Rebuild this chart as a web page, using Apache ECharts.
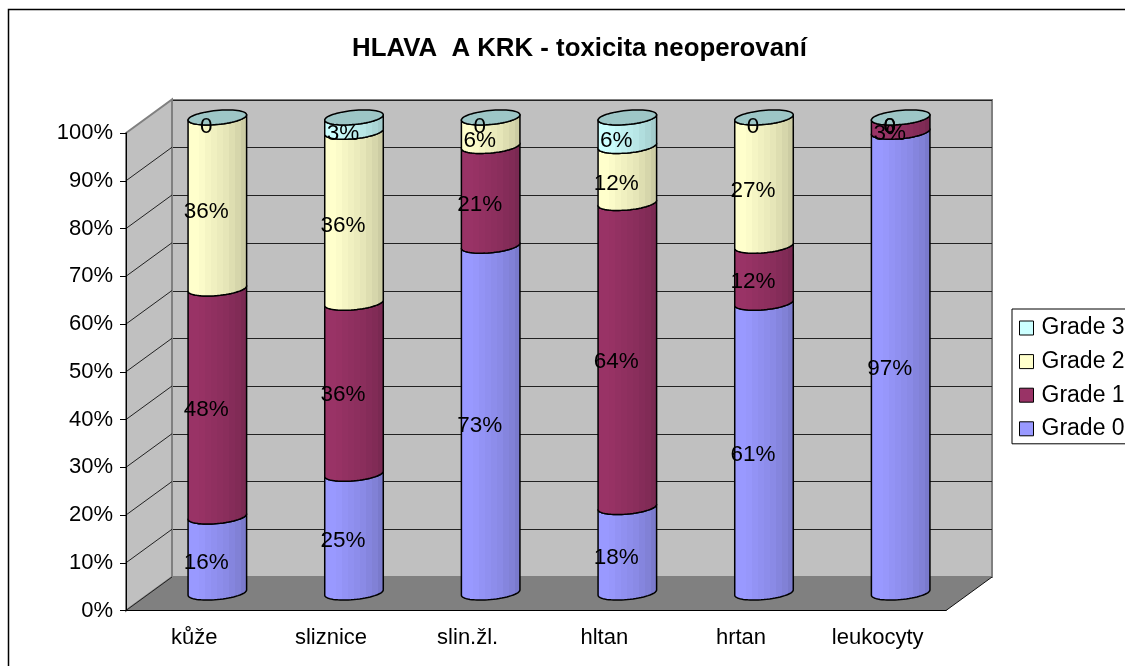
<!DOCTYPE html>
<html>
<head>
<meta charset="utf-8">
<style>html,body{margin:0;padding:0;background:#fff;overflow:hidden}#c{width:1125px;height:666px}</style>
<script src="https://cdn.jsdelivr.net/npm/echarts@6/dist/echarts.min.js"></script>
</head>
<body>
<div id="c"></div>
<script>
const categories = ['kůže','sliznice','slin.žl.','hltan','hrtan','leukocyty'];
const grade0 = [16,25,73,18,61,97];
const grade1 = [48,36,21,64,12,3];
const grade2 = [36,36,6,12,27,0];
const grade3 = [0,3,0,6,0,0];
const yTicks = [0,10,20,30,40,50,60,70,80,90,100];
const gradeNames = ['Grade 0','Grade 1','Grade 2','Grade 3'];
const gradeColors = ['#9999FF','#993366','#FFFFCC','#CCFFFF'];
const gradeValues = [grade0,grade1,grade2,grade3];

const FONT = '"Liberation Sans", Arial, sans-serif';
const DX = 46, DY = -33.5;           // depth of the 3D box
const R = 27.4, EX = 10.3, EY = -7.5; // cylinder ellipse
const T0 = Math.atan(EX / R);

function shade(hex, k) {
  const n = parseInt(hex.slice(1), 16);
  const c = [n >> 16 & 255, n >> 8 & 255, n & 255].map(v => Math.round(v * k));
  return 'rgb(' + c.join(',') + ')';
}
function bands(hex) {
  const steps = [1,1,.985,.96,.94,.92,.9,.87,.84,.8];
  const stops = [];
  steps.forEach((k, i) => {
    stops.push({offset: i / steps.length, color: shade(hex, k)});
    stops.push({offset: (i + 1) / steps.length, color: shade(hex, k)});
  });
  return {type: 'linear', x: 0, y: 0, x2: 1, y2: 0, colorStops: stops};
}
function ell(cx, cy, t) {
  return [cx + R * Math.cos(t) + EX * Math.sin(t), cy + EY * Math.sin(t)];
}
function frontArc(cx, cy, fromRight) {
  const pts = [];
  for (let i = 0; i <= 32; i++) {
    const f = fromRight ? i / 32 : 1 - i / 32;
    pts.push(ell(cx, cy, T0 - Math.PI * f));
  }
  return pts;
}
function centre(api, cat, v) {
  const p = api.coord([cat, v]);
  return [p[0] + DX / 2, 371.75 + DY / 2 + (p[1] - 371.75) * 0.995];
}
const lineStyle = {stroke: '#000', lineWidth: 1.5, lineJoin: 'round'};

function cylinderSeries(g) {
  const data = categories.map((c, i) => {
    let base = 0;
    for (let k = 0; k < g; k++) base += gradeValues[k][i];
    return [i, base, base + gradeValues[g][i]];
  });
  return {
    type: 'custom', name: gradeNames[g], coordinateSystem: 'cartesian2d',
    xAxisIndex: 0, yAxisIndex: 0, z: 6, clip: false, silent: true,
    itemStyle: {color: gradeColors[g]},
    data: data, encode: {x: 0, y: [1, 2]},
    renderItem(params, api) {
      const cat = api.value(0), v0 = api.value(1), v1 = api.value(2);
      const a = centre(api, cat, v0), b = centre(api, cat, v1);
      const children = [];
      if (v1 > v0) {
        const pts = frontArc(a[0], a[1], false).concat(frontArc(b[0], b[1], true));
        children.push({type: 'polygon', shape: {points: pts},
          style: Object.assign({fill: bands(gradeColors[g])}, lineStyle)});
      }
      if (g === gradeNames.length - 1) {
        const cap = [];
        for (let i = 0; i < 64; i++) cap.push(ell(b[0], b[1], i / 64 * Math.PI * 2));
        children.push({type: 'polygon', shape: {points: cap},
          style: Object.assign({fill: '#9DC6C6'}, lineStyle)});
      }
      return {type: 'group', children};
    }
  };
}

const labelData = [];
categories.forEach((c, i) => {
  let base = 0;
  gradeValues.forEach(vals => {
    labelData.push([i, base + vals[i] / 2, vals[i]]);
    base += vals[i];
  });
});

const wallSeries = {
  type: 'custom', coordinateSystem: 'cartesian2d', xAxisIndex: 0, yAxisIndex: 0,
  z: 1, clip: false, silent: true, data: [[0, 0]],
  renderItem(params) {
    const s = params.coordSys, x = s.x, y = s.y, w = s.width, h = s.height;
    return {type: 'group', children: [
      {type: 'polygon', shape: {points: [[x,y],[x+DX,y+DY],[x+DX,y+h+DY],[x,y+h]]},
       style: {fill: '#C0C0C0', stroke: '#808080', lineWidth: 2}},
      {type: 'polygon', shape: {points: [[x,y+h],[x+DX,y+h+DY],[x+w+DX,y+h+DY],[x+w,y+h]]},
       style: {fill: '#808080'}}
    ]};
  }
};
const wallLines = {
  type: 'custom', coordinateSystem: 'cartesian2d', xAxisIndex: 0, yAxisIndex: 0,
  z: 2, clip: false, silent: true,
  data: yTicks.filter(v => v < 100).map(v => [0, v]), encode: {x: 0, y: 1},
  renderItem(params, api) {
    const s = params.coordSys, y = api.coord([0, api.value(1)])[1];
    return {type: 'line', shape: {x1: s.x, y1: y, x2: s.x + DX, y2: y + DY},
      style: {stroke: '#222', lineWidth: 1}};
  }
};
const floorEdge = {
  type: 'custom', coordinateSystem: 'cartesian2d', xAxisIndex: 0, yAxisIndex: 0,
  z: 2, clip: false, silent: true, data: [[0, 0]],
  renderItem(params) {
    const s = params.coordSys, xr = s.x + s.width, yb = s.y + s.height;
    return {type: 'line', shape: {x1: xr, y1: yb, x2: xr + DX, y2: yb + DY},
      style: {stroke: '#111', lineWidth: 1}};
  }
};
const labelSeries = {
  type: 'custom', coordinateSystem: 'cartesian2d', xAxisIndex: 0, yAxisIndex: 0,
  z: 8, clip: false, silent: true, data: labelData, encode: {x: 0, y: 1},
  renderItem(params, api) {
    const level = api.value(1);
    const p = api.coord([api.value(0), level]), v = api.value(2);
    return {type: 'text', style: {
      x: p[0] + 12, y: p[1] - 10 + Math.max(0, level - 50) * 0.08, text: v === 0 ? '0' : v + '%',
      fill: '#000', font: '22.5px ' + FONT, align: 'center', verticalAlign: 'middle'}};
  }
};

const chart = echarts.init(document.getElementById('c'), null, {renderer: 'canvas'});
chart.setOption({
  animation: false,
  backgroundColor: '#fff',
  title: {text: 'HLAVA  A KRK - toxicita neoperovaní', left: 574.5, top: 31, textAlign: 'center',
    textStyle: {fontFamily: FONT, fontSize: 25.8, fontWeight: 'bold', color: '#000'}},
  graphic: [{type: 'rect', shape: {x: 8.5, y: 9.5, width: 1300, height: 900}, silent: true, z: -10,
    style: {fill: 'none', stroke: '#000', lineWidth: 1.5}}],
  legend: {orient: 'vertical', left: 1012, top: 309, data: gradeNames.slice().reverse(),
    padding: [7.5, 40, 3.5, 7], itemWidth: 14, itemHeight: 14, itemGap: 10.6, icon: 'rect', selectedMode: false,
    backgroundColor: '#fff', borderColor: '#000', borderWidth: 1,
    itemStyle: {borderColor: '#000', borderWidth: 1},
    textStyle: {fontFamily: FONT, fontSize: 23, color: '#000', padding: [0,0,0,3]}},
  grid: [
    {left: 126, top: 133, width: 820, height: 477.5},
    {left: 172, top: 100, width: 820, height: 477, show: true, backgroundColor: '#C0C0C0',
     borderColor: '#808080', borderWidth: 2}
  ],
  xAxis: [
    {type: 'category', gridIndex: 0, data: categories, z: 5,
     axisLine: {lineStyle: {color: '#000', width: 1}},
     axisTick: {alignWithLabel: false, length: 8, lineStyle: {color: '#000'}},
     axisLabel: {color: '#000', fontFamily: FONT, fontSize: 22, margin: 16}},
    {type: 'category', gridIndex: 1, data: categories, axisLine: {show: false}, axisTick: {show: false}, axisLabel: {show: false}}
  ],
  yAxis: [
    {type: 'value', gridIndex: 0, min: 0, max: 100, interval: 10, z: 5,
     axisLine: {show: true, lineStyle: {color: '#000', width: 1}},
     axisTick: {show: true, length: 6, lineStyle: {color: '#000'}},
     axisLabel: {color: '#000', fontFamily: FONT, fontSize: 22, margin: 13, formatter: '{value}%'},
     splitLine: {show: false}},
    {type: 'value', gridIndex: 1, min: 0, max: 100, interval: 10,
     axisLine: {show: false}, axisTick: {show: false}, axisLabel: {show: false},
     splitLine: {show: true, lineStyle: {color: '#222', width: 1}}}
  ],
  series: [wallSeries, wallLines, floorEdge]
    .concat(gradeNames.map((n, g) => cylinderSeries(g)))
    .concat([labelSeries])
});
</script>
</body>
</html>
